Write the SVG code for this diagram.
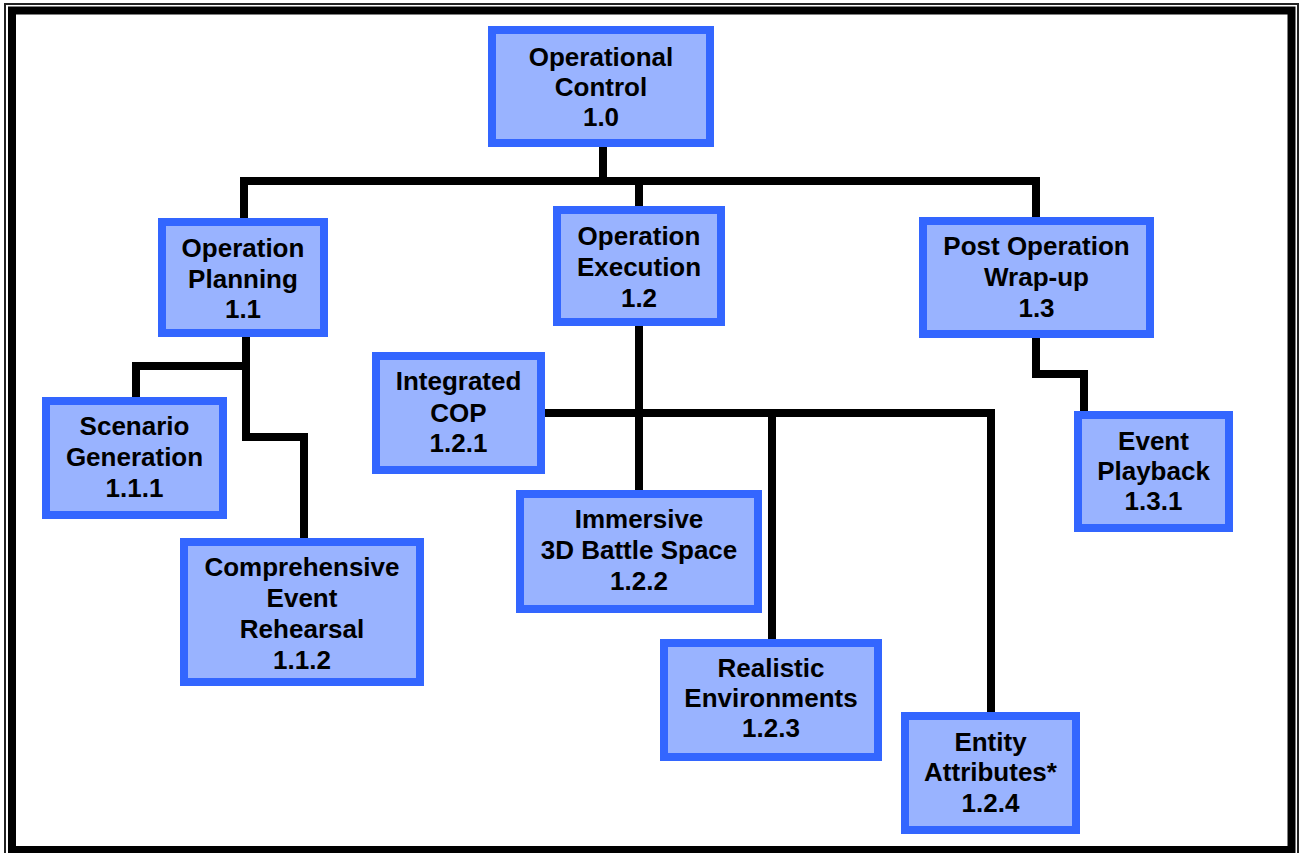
<svg xmlns="http://www.w3.org/2000/svg" width="1301" height="853" viewBox="0 0 1301 853">
<style>
.box{fill:#99B3FF;stroke:#3366FF;stroke-width:8}
.lbl{font-family:"Liberation Sans",Arial,sans-serif;font-weight:bold;font-size:26px;fill:#000;text-anchor:middle}
.con{fill:none;stroke:#000;stroke-width:8;stroke-linejoin:miter;stroke-linecap:butt}
</style>
<rect x="0" y="0" width="1301" height="853" fill="#fff"/>
<rect x="5" y="4" width="1293" height="860" fill="none" stroke="#222" stroke-width="2"/>
<rect x="12" y="10.5" width="1279.5" height="839.5" fill="none" stroke="#000" stroke-width="8"/>
<g id="connectors">
<path class="con" d="M603 147 V181"/>
<path class="con" d="M244 218 V181 H1036 V217"/>
<path class="con" d="M639 181 V206"/>
<path class="con" d="M136 397 V366 H246 V337"/>
<path class="con" d="M246 366 V437 H304 V538"/>
<path class="con" d="M639 326 V490"/>
<path class="con" d="M545 413 H991 V712"/>
<path class="con" d="M772 413 V639"/>
<path class="con" d="M1036 338 V374 H1084 V411"/>
</g>
<g id="n1_0"><rect class="box" x="492" y="30" width="218" height="113"/>
<text class="lbl" x="601" y="66">Operational</text><text class="lbl" x="601" y="96">Control</text><text class="lbl" x="601" y="126">1.0</text></g>
<g id="n1_1"><rect class="box" x="162" y="222" width="162" height="111"/>
<text class="lbl" x="243" y="257">Operation</text><text class="lbl" x="243" y="288">Planning</text><text class="lbl" x="243" y="318">1.1</text></g>
<g id="n1_2"><rect class="box" x="557" y="210" width="164" height="112"/>
<text class="lbl" x="639" y="245">Operation</text><text class="lbl" x="639" y="276">Execution</text><text class="lbl" x="639" y="307">1.2</text></g>
<g id="n1_3"><rect class="box" x="923" y="221" width="227" height="113"/>
<text class="lbl" x="1036.5" y="255">Post Operation</text><text class="lbl" x="1036.5" y="286">Wrap-up</text><text class="lbl" x="1036.5" y="317">1.3</text></g>
<g id="n1_1_1"><rect class="box" x="46" y="401" width="177" height="114"/>
<text class="lbl" x="134.5" y="435">Scenario</text><text class="lbl" x="134.5" y="466">Generation</text><text class="lbl" x="134.5" y="497">1.1.1</text></g>
<g id="n1_1_2"><rect class="box" x="184" y="542" width="236" height="140"/>
<text class="lbl" x="302" y="576">Comprehensive</text><text class="lbl" x="302" y="607">Event</text><text class="lbl" x="302" y="638">Rehearsal</text><text class="lbl" x="302" y="669">1.1.2</text></g>
<g id="n1_2_1"><rect class="box" x="376" y="356" width="165" height="114"/>
<text class="lbl" x="458.5" y="390">Integrated</text><text class="lbl" x="458.5" y="422">COP</text><text class="lbl" x="458.5" y="452">1.2.1</text></g>
<g id="n1_2_2"><rect class="box" x="520" y="494" width="238" height="115"/>
<text class="lbl" x="639" y="528">Immersive</text><text class="lbl" x="639" y="559">3D Battle Space</text><text class="lbl" x="639" y="590">1.2.2</text></g>
<g id="n1_2_3"><rect class="box" x="664" y="643" width="214" height="114"/>
<text class="lbl" x="771" y="677">Realistic</text><text class="lbl" x="771" y="707">Environments</text><text class="lbl" x="771" y="737">1.2.3</text></g>
<g id="n1_2_4"><rect class="box" x="905" y="716" width="171" height="114"/>
<text class="lbl" x="990.5" y="751">Entity</text><text class="lbl" x="990.5" y="781">Attributes*</text><text class="lbl" x="990.5" y="812">1.2.4</text></g>
<g id="n1_3_1"><rect class="box" x="1078" y="415" width="151" height="113"/>
<text class="lbl" x="1153.5" y="450">Event</text><text class="lbl" x="1153.5" y="480">Playback</text><text class="lbl" x="1153.5" y="510">1.3.1</text></g>
</svg>
